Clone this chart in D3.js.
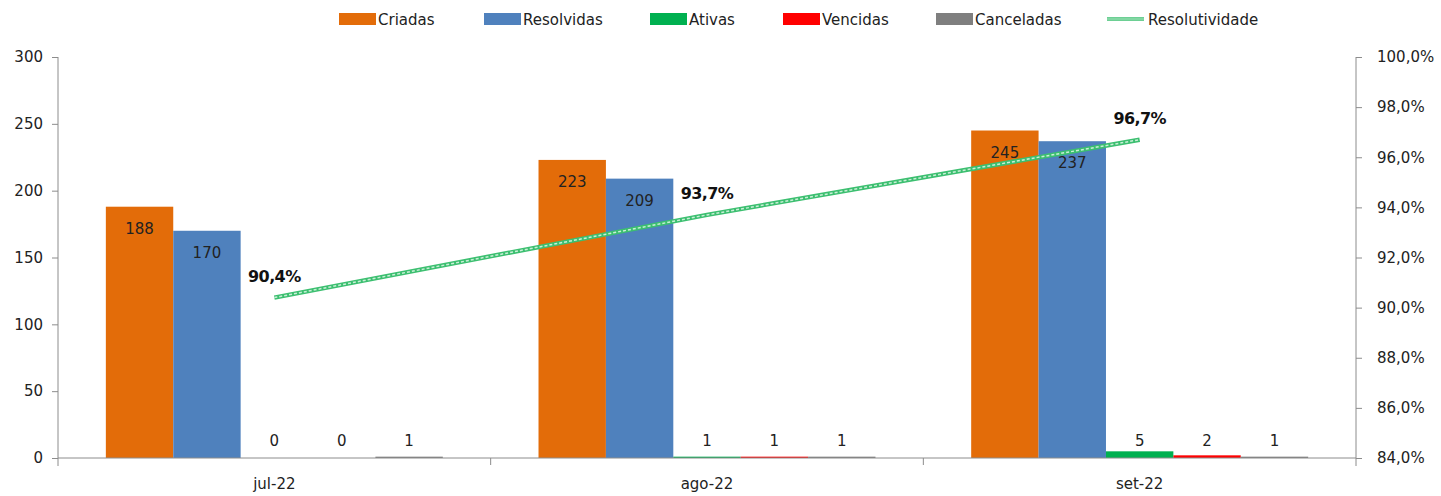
<!DOCTYPE html>
<html lang="pt">
<head>
    <meta charset="UTF-8">
    <title>Resolutividade</title>
    <script src="https://d3js.org/d3.v7.min.js"></script>
    <style>
        body {
            margin: 0;
            background: #fff;
            font-family: "DejaVu Sans", sans-serif;
        }
        .axis path, .axis line {
            stroke: #8c8c8c;
        }
        .axis text {
            fill: #222;
            font-size: 15px;
            font-family: "DejaVu Sans", sans-serif;
        }
    </style>
</head>
<body>
<svg id="chart"></svg>
<script>
    // dados
    const months = ["jul-22", "ago-22", "set-22"];
    const series = ["Criadas", "Resolvidas", "Ativas", "Vencidas", "Canceladas"];
    const criadas = [188, 223, 245];
    const resolvidas = [170, 209, 237];
    const ativas = [0, 1, 5];
    const vencidas = [0, 1, 2];
    const canceladas = [1, 1, 1];
    const resolutividade = [90.4, 93.7, 96.7];
    const leftTicks = [0, 50, 100, 150, 200, 250, 300];
    const rightTicks = [84, 86, 88, 90, 92, 94, 96, 98, 100];

    const colors = ["#E36C09", "#4F81BD", "#00B050", "#FF0000", "#7F7F7F"];
    const values = [criadas, resolvidas, ativas, vencidas, canceladas];

    const width = 1441, height = 496;
    const mLeft = 58, mRight = 1356, mTop = 57, mBottom = 458;

    const svg = d3.select("#chart").attr("width", width).attr("height", height);

    const x0 = d3.scaleBand().domain(months).range([mLeft, mRight]).padding(0);
    const x1 = d3.scaleBand().domain(series).range([0, x0.bandwidth()])
        .paddingInner(0).paddingOuter(0.71);
    const y = d3.scaleLinear().domain([0, 300]).range([mBottom, mTop]);
    const y2 = d3.scaleLinear().domain([84, 100]).range([mBottom, mTop]);

    const fmtPct = d => d.toFixed(1).replace(".", ",") + "%";

    // barras
    const groups = svg.selectAll("g.month").data(months).enter().append("g")
        .attr("class", "month")
        .attr("transform", d => `translate(${x0(d)},0)`);

    groups.each(function (m, i) {
        const g = d3.select(this);
        series.forEach((s, j) => {
            const v = values[j][i];
            g.append("rect")
                .attr("x", x1(s))
                .attr("width", x1.bandwidth())
                .attr("y", y(v))
                .attr("height", mBottom - y(v))
                .attr("fill", colors[j]);
            const big = mBottom - y(v) > 40;
            g.append("text")
                .attr("x", x1(s) + x1.bandwidth() / 2)
                .attr("y", big ? y(v) + 27 : Math.min(y(v) - 5, mBottom - 12))
                .attr("text-anchor", "middle")
                .attr("font-size", 15)
                .attr("fill", "#222")
                .text(v);
        });
    });

    // eixos
    svg.append("g").attr("class", "axis")
        .attr("transform", `translate(${mLeft},0)`)
        .call(d3.axisLeft(y).tickValues(leftTicks).tickSizeOuter(0).tickSize(6).tickPadding(9))
        .call(g => g.select(".domain").attr("d", `M0,${mTop}V${mBottom + 8}`));

    svg.append("g").attr("class", "axis")
        .attr("transform", `translate(${mRight},0)`)
        .call(d3.axisRight(y2).tickValues(rightTicks).tickFormat(fmtPct).tickSizeOuter(0).tickSize(6).tickPadding(15))
        .call(g => g.select(".domain").attr("d", `M0,${mTop}V${mBottom + 8}`));

    // eixo x com marcas nos limites das categorias
    const xg = svg.append("g").attr("class", "axis");
    xg.append("line").attr("x1", mLeft).attr("x2", mRight)
        .attr("y1", mBottom).attr("y2", mBottom);
    months.slice(1).forEach(m => {
        xg.append("line").attr("x1", x0(m)).attr("x2", x0(m))
            .attr("y1", mBottom).attr("y2", mBottom + 7);
    });
    xg.selectAll("text.cat").data(months).enter().append("text")
        .attr("class", "cat")
        .attr("x", d => x0(d) + x0.bandwidth() / 2)
        .attr("y", mBottom + 31)
        .attr("text-anchor", "middle")
        .text(d => d);

    // linha de resolutividade
    const lineGen = d3.line()
        .x((d, i) => x0(months[i]) + x0.bandwidth() / 2)
        .y(d => y2(d));

    svg.append("path").datum(resolutividade)
        .attr("d", lineGen)
        .attr("fill", "none")
        .attr("stroke", "#3cbf70")
        .attr("stroke-width", 4.5);
    svg.append("path").datum(resolutividade)
        .attr("d", lineGen)
        .attr("fill", "none")
        .attr("stroke", "#c8efd6")
        .attr("stroke-width", 1.5)
        .attr("stroke-dasharray", "3,2");

    svg.selectAll("text.pct").data(resolutividade).enter().append("text")
        .attr("class", "pct")
        .attr("x", (d, i) => x0(months[i]) + x0.bandwidth() / 2)
        .attr("y", d => y2(d) - 16)
        .attr("text-anchor", "middle")
        .attr("font-size", 16)
        .attr("letter-spacing", -0.6)
        .attr("font-weight", "bold")
        .attr("fill", "#111")
        .text(fmtPct);

    // legenda
    const legendX = [339, 484, 650, 783, 936];
    const leg = svg.append("g");
    series.forEach((s, j) => {
        leg.append("rect").attr("x", legendX[j]).attr("y", 13)
            .attr("width", 37).attr("height", 12).attr("fill", colors[j]);
        leg.append("text").attr("x", legendX[j] + 39).attr("y", 25)
            .attr("font-size", 15).attr("fill", "#222").text(s);
    });
    leg.append("line").attr("x1", 1107).attr("x2", 1144).attr("y1", 19).attr("y2", 19)
        .attr("stroke", "#3cbf70").attr("stroke-width", 3.5);
    leg.append("line").attr("x1", 1107).attr("x2", 1144).attr("y1", 19).attr("y2", 19)
        .attr("stroke", "#c8efd6").attr("stroke-width", 1);
    leg.append("text").attr("x", 1148).attr("y", 25)
        .attr("font-size", 15).attr("fill", "#222").text("Resolutividade");
</script>
</body>
</html>
